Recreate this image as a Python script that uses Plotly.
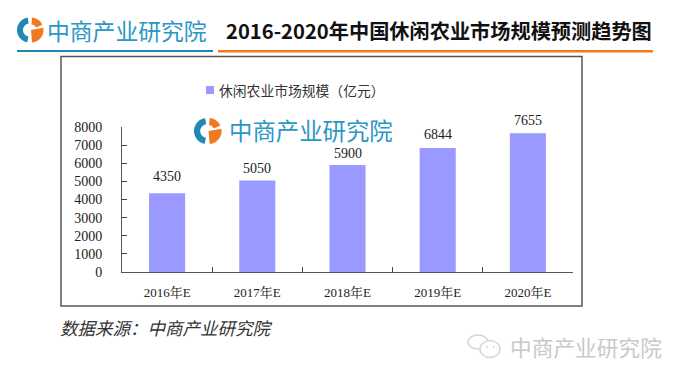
import math
import plotly.graph_objects as go

categories = ["2016年E", "2017年E", "2018年E", "2019年E", "2020年E"]
values = [4350, 5050, 5900, 6844, 7655]
series_name = "休闲农业市场规模（亿元）"
y_ticks = [0, 1000, 2000, 3000, 4000, 5000, 6000, 7000, 8000]
main_title = "2016-2020年中国休闲农业市场规模预测趋势图"
brand = "中商产业研究院"
source_note = "数据来源：中商产业研究院"
label_gaps = [17, 12, 12, 13, 13]

W, H = 680, 379
BLUE, ORANGE = "#1F88B4", "#F07A20"
SERIF = "'Liberation Serif','Noto Serif CJK SC','Noto Sans CJK SC',serif"
SANS = "'Noto Sans CJK SC','Noto Sans',sans-serif"


def px(x):
    return x / W


def py(y):
    return 1 - y / H


def pbox(x0, y0, x1, y1, **kw):
    return dict(type="rect", xref="paper", yref="paper", x0=px(x0), x1=px(x1), y0=py(y0), y1=py(y1), **kw)


def oval(cx, cy, rx, ry, **kw):
    return dict(type="circle", xref="paper", yref="paper", x0=px(cx - rx), x1=px(cx + rx),
                y0=py(cy + ry), y1=py(cy - ry), **kw)


def logo(cx, cy, r):
    def ring(a0, a1, r0, r1, ccx):
        n = 24
        pts = [(ccx + r1 * math.cos(math.radians(a0 + (a1 - a0) * i / n)),
                cy + r1 * math.sin(math.radians(a0 + (a1 - a0) * i / n))) for i in range(n + 1)]
        pts += [(ccx + r0 * math.cos(math.radians(a1 - (a1 - a0) * i / n)),
                 cy + r0 * math.sin(math.radians(a1 - (a1 - a0) * i / n))) for i in range(n + 1)]
        return "M" + " L".join(f"{px(x):.5f},{py(y):.5f}" for x, y in pts) + " Z"

    return [
        dict(type="path", xref="paper", yref="paper", path=ring(100, 262, r * 0.52, r, cx), fillcolor=BLUE, line_width=0),
        dict(type="path", xref="paper", yref="paper", path=ring(-10, 85, 0.0, r, cx + r * 0.12), fillcolor=ORANGE, line_width=0),
        dict(type="path", xref="paper", yref="paper", path=ring(-85, -25, r * 0.45, r, cx + r * 0.12), fillcolor=ORANGE, line_width=0),
    ]


fig = go.Figure(
    go.Bar(x=categories, y=values, marker_color="#9999FF", marker_line_width=0, width=0.4, name=series_name)
)

shapes = [
    pbox(61, 56.5, 582, 306, line=dict(color="#555", width=1.5), fillcolor="white", layer="below"),
    pbox(17, 50, 213, 52, fillcolor=BLUE, line_width=0),
    pbox(218, 50, 653, 52.5, fillcolor=ORANGE, line_width=0),
    pbox(206, 86, 214, 94, fillcolor="#9999FF", line_width=0),
    oval(478, 342, 10, 7, line=dict(color="#D5D5D5", width=1.5)),
    oval(490, 349, 10, 8.5, line=dict(color="#D5D5D5", width=1.5), fillcolor="white"),
    oval(487, 347, 1, 1, fillcolor="#D5D5D5", line_width=0),
    oval(494, 347, 1, 1, fillcolor="#D5D5D5", line_width=0),
] + logo(29.5, 30, 12.5) + logo(207, 131, 13)


def label(text, x, y, size, color, family=SANS, anchor="left", **kw):
    return dict(text=text, x=px(x), y=py(y), xref="paper", yref="paper", showarrow=False, xanchor=anchor,
                yanchor="middle", font=dict(size=size, color=color, family=family), **kw)


annotations = [
    label(brand, 45, 30, 22.8, "#2A97C4"),
    label(f"<b>{main_title}</b>", 224, 30, 20.2, "#111"),
    label(series_name, 217, 90, 13.8, "#333"),
    label(brand, 227, 129.5, 23.4, "#2A97C4"),
    label(f"<i>{source_note}</i>", 58, 327, 17.5, "#333"),
    label(brand, 508, 346, 21.7, "#C9C9C9"),
]
for c, v, g in zip(categories, values, label_gaps):
    annotations.append(dict(x=c, y=v, xref="x", yref="y", text=str(v), showarrow=False, yanchor="middle",
                            yshift=g, font=dict(family=SERIF, size=14, color="#222")))

fig.update_layout(
    width=W, height=H, margin=dict(l=0, r=0, t=0, b=0, autoexpand=False), showlegend=False,
    paper_bgcolor="white", plot_bgcolor="rgba(0,0,0,0)", shapes=shapes, annotations=annotations,
    xaxis=dict(domain=[px(122), px(573)], tickson="boundaries", ticks="inside", ticklen=5, tickwidth=1,
               tickcolor="#444", linecolor="#555", linewidth=1, showgrid=False, zeroline=False,
               tickfont=dict(family=SERIF, size=13, color="#222"), ticklabelstandoff=8),
    yaxis=dict(domain=[py(272), py(127)], range=[0, 8000], tickvals=y_ticks, ticks="inside", ticklen=5, tickwidth=1,
               tickcolor="#444", linecolor="#555", linewidth=1, showgrid=False, zeroline=False,
               tickfont=dict(family=SERIF, size=14, color="#222"), ticklabelstandoff=16),
)

fig.write_html("out.html", config=dict(displayModeBar=False), post_script="document.body.style.margin='0';")
